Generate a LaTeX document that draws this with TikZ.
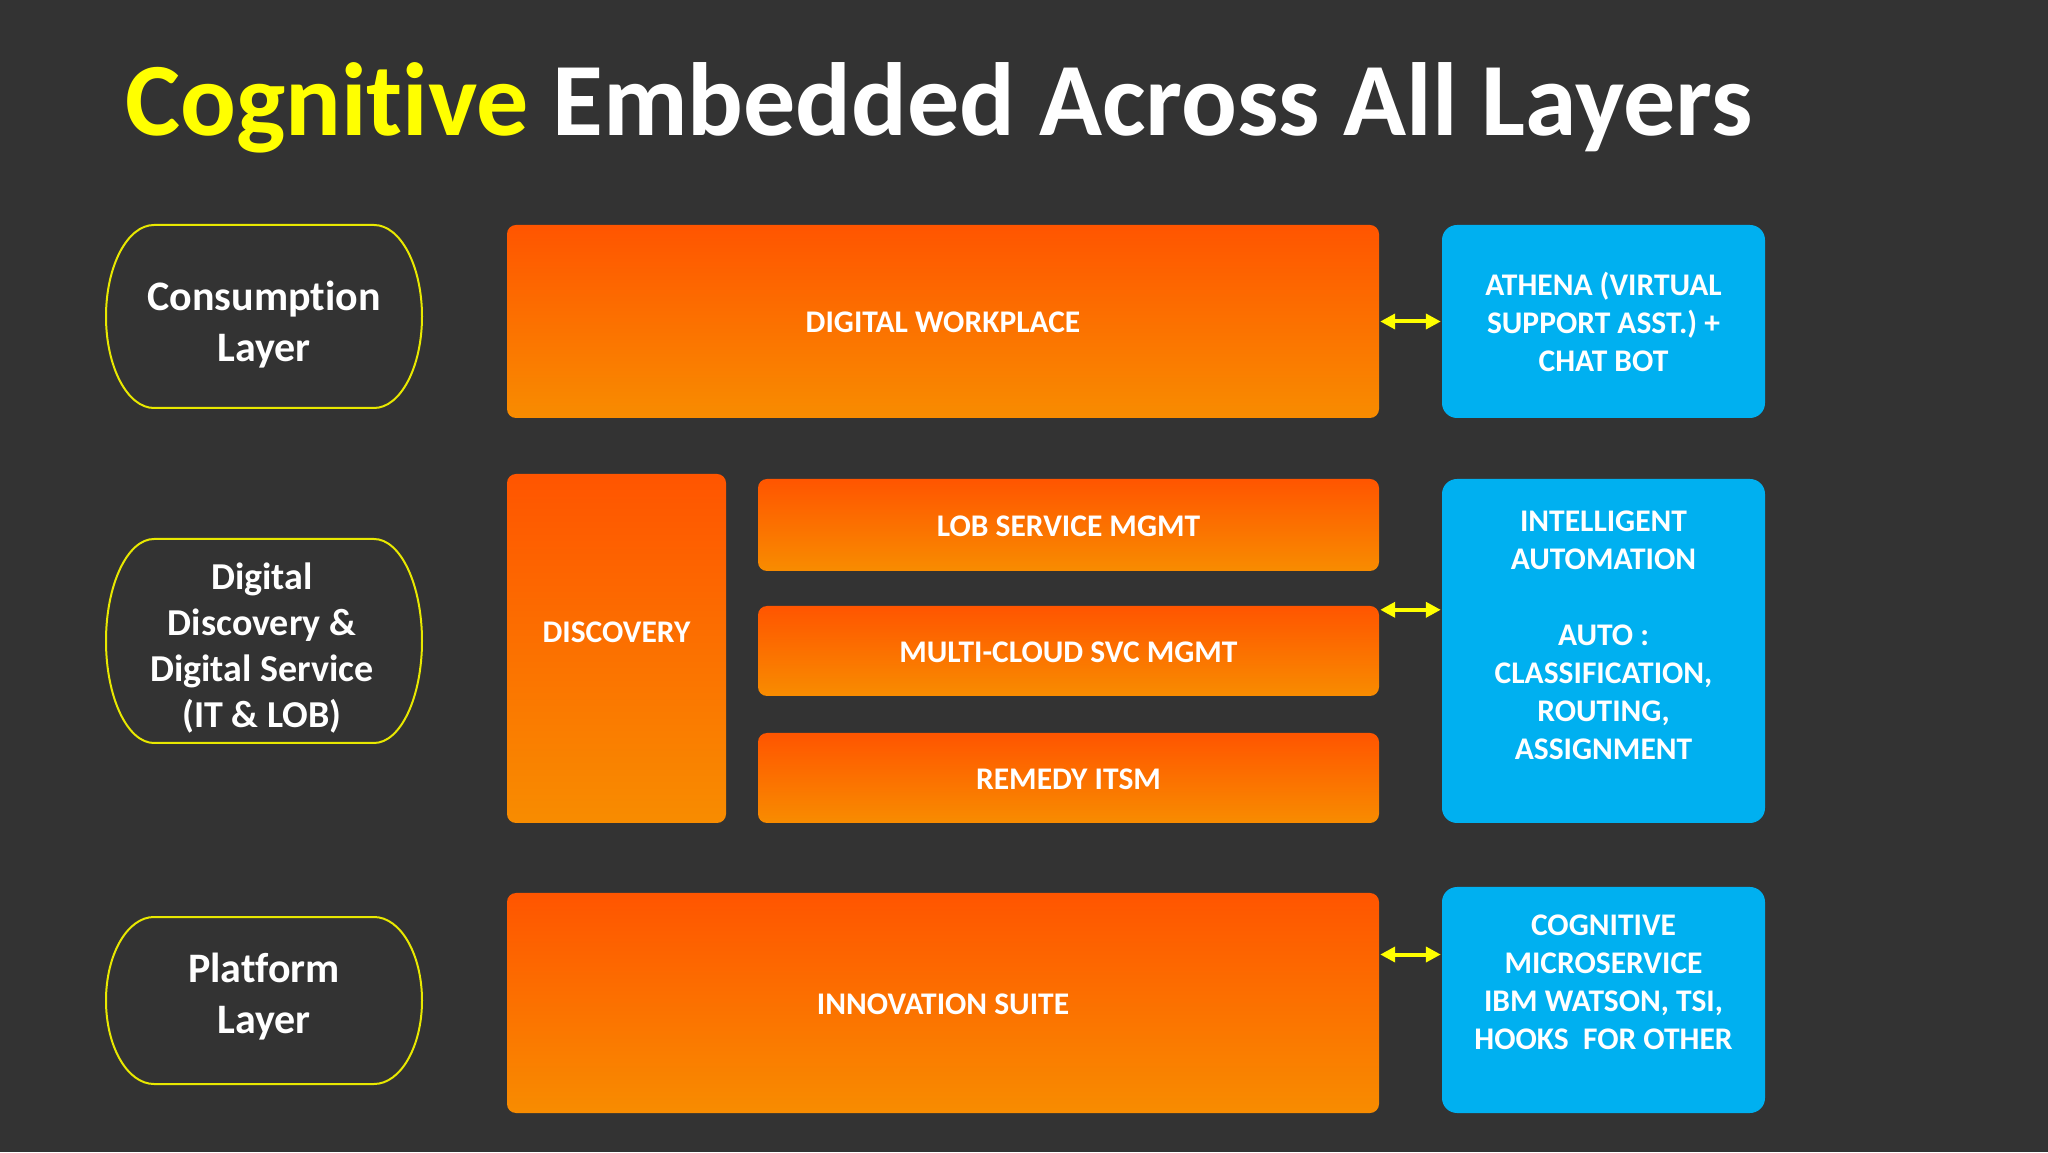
\documentclass[tikz,border=0pt]{standalone}
\usepackage{fontspec}
\setmainfont{Carlito}[Ligatures=NoCommon]
\usetikzlibrary{arrows.meta,calc}
\definecolor{bgc}{HTML}{333333}
\definecolor{ytitle}{HTML}{FFFF00}
\definecolor{ovline}{HTML}{E8E800}
\definecolor{orTop}{HTML}{FF5500}
\definecolor{orBot}{HTML}{F88C00}
\definecolor{skyb}{HTML}{00B0F0}
\definecolor{arrowy}{HTML}{FFFF00}
\newcommand\ttlfont{\fontsize{104}{124}\selectfont\bfseries}
\newcommand\bxfont{\fontsize{31.5}{38}\selectfont\bfseries}
\newcommand\ovfont{\fontsize{42}{51}\selectfont\bfseries}
\newcommand\ovsmfont{\fontsize{38}{46}\selectfont\bfseries}
\tikzset{
  orangebox/.style={rectangle, rounded corners=9pt, top color=orTop, bottom color=orBot, draw=none, inner sep=0pt},
  bluebox/.style={rectangle, rounded corners=15pt, fill=skyb, draw=none, inner sep=0pt},
  boxtext/.style={text=white, font=\bxfont, align=center, inner sep=0pt},
  ovaltext/.style={text=white, font=\ovfont, align=center, inner sep=0pt},
  ovalline/.style={draw=ovline, line width=2pt},
  link/.style={draw=arrowy, line width=4pt, {Triangle[length=15pt,width=15pt]}-{Triangle[length=15pt,width=15pt]}, shorten <=1pt, shorten >=1pt}
}
\begin{document}
\begin{tikzpicture}[x=1pt,y=1pt]
\useasboundingbox (0,0) rectangle (2048,1152);
\fill[bgc] (0,0) rectangle (2048,1152);

% title
\node[anchor=base west, font=\ttlfont, text=white, inner sep=0pt] (title) at (125,1016) {\textcolor{ytitle}{Cognitive} Embedded Across All Layers};

% left ovals
\draw[ovalline] (154,927) -- (374,927) arc[start angle=90,end angle=-90,x radius=48,y radius=91.5] -- (154,744) arc[start angle=270,end angle=90,x radius=48,y radius=91.5] -- cycle;
\node[ovaltext] (cons) at (264,827) {Consumption\\Layer};

\draw[ovalline] (154,613) -- (374,613) arc[start angle=90,end angle=-90,x radius=48,y radius=102] -- (154,409) arc[start angle=270,end angle=90,x radius=48,y radius=102] -- cycle;
\node[ovaltext, font=\ovsmfont] (digi) at (262,504) {Digital\\Discovery \&\\Digital Service\\(IT \& LOB)};

\draw[ovalline] (154,235) -- (374,235) arc[start angle=90,end angle=-90,x radius=48,y radius=83.5] -- (154,68) arc[start angle=270,end angle=90,x radius=48,y radius=83.5] -- cycle;
\node[ovaltext] (plat) at (264,155) {Platform\\Layer};

% orange boxes
\node[orangebox, minimum width=872pt, minimum height=193pt] (dw) at (943,830.5) {};
\node[boxtext] (dwt) at ([yshift=-1pt]dw.center) {DIGITAL WORKPLACE};

\node[orangebox, minimum width=219pt, minimum height=349pt] (disc) at (616.5,503.5) {};
\node[boxtext] (disct) at (616.5,520) {DISCOVERY};

\node[orangebox, minimum width=621pt, minimum height=92pt] (lob) at (1068.5,627) {};
\node[boxtext] (lobt) at ([yshift=-1pt]lob.center) {LOB SERVICE MGMT};

\node[orangebox, minimum width=621pt, minimum height=90pt] (multi) at (1068.5,501) {};
\node[boxtext] (multit) at ([yshift=-1pt]multi.center) {MULTI-CLOUD SVC MGMT};

\node[orangebox, minimum width=621pt, minimum height=90pt] (rem) at (1068.5,374) {};
\node[boxtext] (remt) at ([yshift=-1pt]rem.center) {REMEDY ITSM};

\node[orangebox, minimum width=872pt, minimum height=220pt] (inno) at (943,149) {};
\node[boxtext] (innot) at ([yshift=-1pt]inno.center) {INNOVATION SUITE};

% blue boxes
\node[bluebox, minimum width=323pt, minimum height=193pt] (ath) at (1603.5,830.5) {};
\node[boxtext] (atht) at (ath.center) {ATHENA (VIRTUAL\\SUPPORT ASST.) +\\CHAT BOT};

\node[bluebox, minimum width=323pt, minimum height=344pt] (intel) at (1603.5,501) {};
\node[boxtext] (intelt) at (1603.5,517) {INTELLIGENT\\AUTOMATION\\[38pt]AUTO :\\CLASSIFICATION,\\ROUTING,\\ASSIGNMENT};

\node[bluebox, minimum width=323pt, minimum height=226pt] (cog) at (1603.5,152) {};
\node[boxtext] (cogt) at (1603.5,170) {COGNITIVE\\MICROSERVICE\\IBM WATSON, TSI,\\HOOKS\ \ FOR OTHER};

% connectors
\draw[link] (dw.east) -- (ath.west);
\coordinate (m2) at ([yshift=-4pt]multi.north east);
\draw[link] (m2) -- (intel.west |- m2);
\coordinate (m3) at ($(inno.north east)!0.28!(inno.south east)$);
\draw[link] (m3) -- (cog.west |- m3);
\end{tikzpicture}
\end{document}
